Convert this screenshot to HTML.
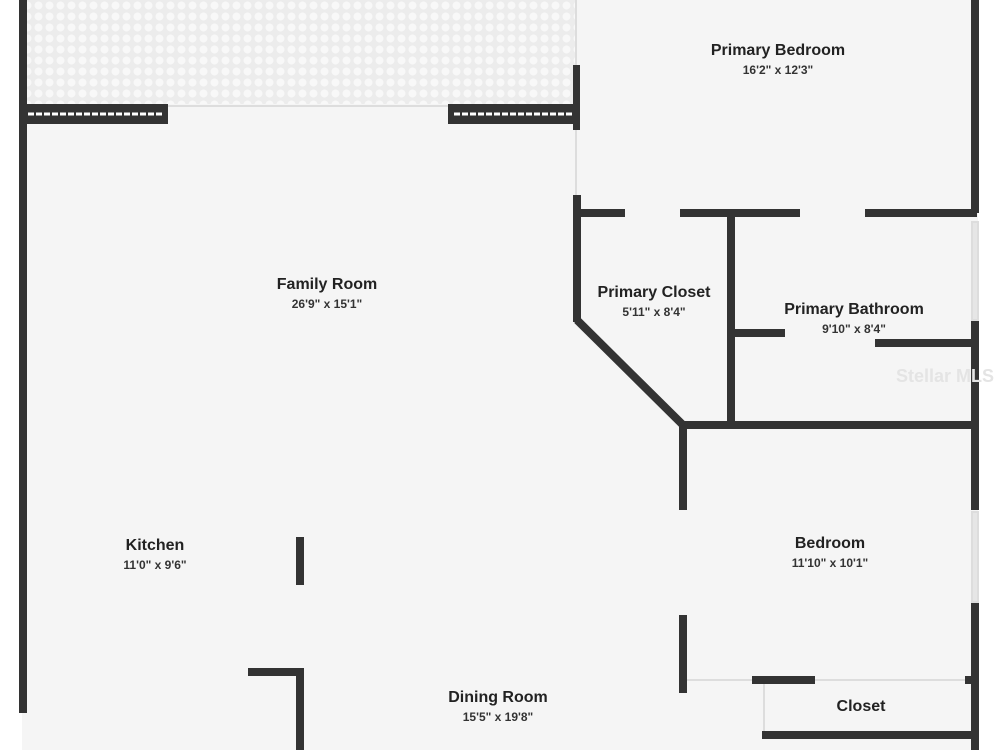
<!DOCTYPE html>
<html><head><style>
html,body{margin:0;padding:0;background:#fff;}
svg{display:block;}
text{font-family:"Liberation Sans",sans-serif;fill:#222;text-anchor:middle;}
.t{font-size:16px;font-weight:bold;}
.d{font-size:12px;font-weight:bold;fill:#333;}
</style></head><body>
<svg width="1000" height="750" viewBox="0 0 1000 750" xmlns="http://www.w3.org/2000/svg">
<defs>
<pattern id="dots" width="11" height="11" patternUnits="userSpaceOnUse">
<rect width="11" height="11" fill="#ececec"/>
<circle cx="5.5" cy="5.5" r="4" fill="#f8f8f8"/>
</pattern>
</defs>
<rect x="22" y="0" width="956" height="750" fill="#f5f5f5"/>
<rect x="27" y="0" width="548" height="104" fill="url(#dots)"/>
<g fill="#333">
<rect x="19" y="0" width="8" height="713"/>
<rect x="22" y="104" width="146" height="20"/>
<rect x="448" y="104" width="130" height="20"/>
<rect x="573" y="65" width="7" height="65"/>
<rect x="573" y="195" width="8" height="127"/>
<rect x="577" y="209" width="48" height="8"/>
<rect x="680" y="209" width="120" height="8"/>
<rect x="865" y="209" width="112" height="8"/>
<rect x="727" y="213" width="8" height="209"/>
<rect x="680" y="421" width="297" height="8"/>
<rect x="731" y="329" width="54" height="8"/>
<rect x="875" y="339" width="100" height="8"/>
<rect x="971" y="0" width="8" height="213"/>
<rect x="971" y="320" width="8" height="190"/>
<rect x="971" y="603" width="8" height="147"/>
<rect x="679" y="425" width="8" height="85"/>
<rect x="679" y="615" width="8" height="78"/>
<rect x="752" y="676" width="63" height="8"/>
<rect x="965" y="676" width="10" height="8"/>
<rect x="762" y="731" width="213" height="8"/>
<rect x="296" y="537" width="8" height="48"/>
<rect x="248" y="668" width="56" height="8"/>
<rect x="296" y="668" width="8" height="82"/>
</g>
<path d="M577 320 L683 425" stroke="#333" stroke-width="8" fill="none"/>
<g stroke="#fff" stroke-width="3" stroke-dasharray="6 2">
<line x1="28" y1="114" x2="162" y2="114"/>
<line x1="454" y1="114" x2="574" y2="114"/>
</g>
<g fill="none" stroke="#ddd" stroke-width="2">
<line x1="576" y1="0" x2="576" y2="65"/>
<line x1="576" y1="130" x2="576" y2="195"/>
<line x1="168" y1="106" x2="448" y2="106"/>
<rect x="972" y="222" width="6" height="98" fill="#e6e6e6"/>
<rect x="972" y="512" width="6" height="90" fill="#e6e6e6"/>
<line x1="687" y1="680" x2="752" y2="680"/>
<line x1="815" y1="680" x2="965" y2="680"/>
<line x1="764" y1="684" x2="764" y2="731"/>
</g>
<text class="t" x="778" y="55">Primary Bedroom</text>
<text class="d" x="778" y="74">16'2" x 12'3"</text>
<text class="t" x="327" y="289">Family Room</text>
<text class="d" x="327" y="308">26'9" x 15'1"</text>
<text class="t" x="654" y="297">Primary Closet</text>
<text class="d" x="654" y="316">5'11" x 8'4"</text>
<text class="t" x="854" y="314">Primary Bathroom</text>
<text class="d" x="854" y="333">9'10" x 8'4"</text>
<text class="t" x="155" y="550">Kitchen</text>
<text class="d" x="155" y="569">11'0" x 9'6"</text>
<text class="t" x="830" y="548">Bedroom</text>
<text class="d" x="830" y="567">11'10" x 10'1"</text>
<text class="t" x="498" y="702">Dining Room</text>
<text class="d" x="498" y="721">15'5" x 19'8"</text>
<text class="t" x="861" y="711">Closet</text>
<text x="945" y="382" style="font-size:18px;font-weight:bold;fill:#e4e4e4">Stellar MLS</text>
</svg>
</body></html>
